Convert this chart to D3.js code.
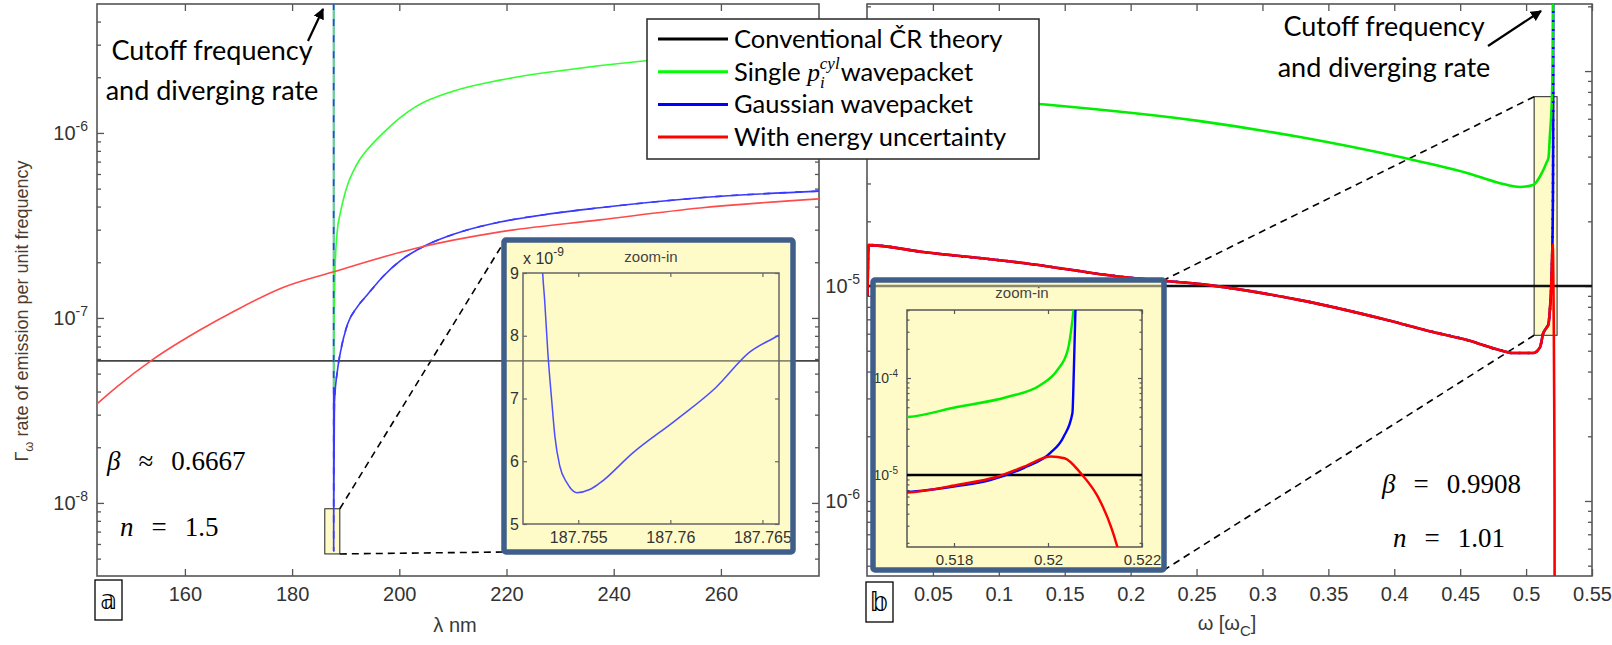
<!DOCTYPE html>
<html>
<head>
<meta charset="UTF-8">
<script src="https://d3js.org/d3.v7.min.js"></script>
<style>
  body { margin: 0; background: #fff; }
  svg { display: block; }
  .tk text { font-family: "Liberation Sans", Arial, sans-serif; fill: #333; }
  .note { font-family: Lato, "Open Sans", sans-serif; font-size: 27px; fill: #000; }
  .leg { font-family: Lato, "Open Sans", sans-serif; font-size: 25.5px; fill: #000; }
  .math { font-family: "Liberation Serif", "DejaVu Serif", serif; font-size: 27px; fill: #000; }
</style>
</head>
<body>
<svg id="chart" width="1612" height="645"></svg>
<script>
// ---------- data ----------
// panel (a): rate vs wavelength (nm)
const lamRange = [143.6, 278.3];
const rateRangeA = [Math.pow(10, -8.395), Math.pow(10, -5.303)];
const lamTicks = [160, 180, 200, 220, 240, 260];
const convA = 5.86e-8;
const redLamA = [143.6, 147.3, 153.9, 162.8, 169.0, 178.3, 187.6, 203.3, 218.8, 237.4, 256.1, 278.3];
const redValA = [3.43e-8, 4.24e-8, 5.93e-8, 8.6e-8, 1.08e-7, 1.46e-7, 1.77e-7, 2.39e-7, 2.92e-7, 3.39e-7, 3.93e-7, 4.40e-7];
const greenLamA = [187.7500, 187.76, 187.8, 187.9, 188.0, 188.4, 189.0, 189.5, 190.5, 191.4, 192.5, 194.0, 197.0, 200.0, 203.3, 210.0, 218.8, 230.0, 245.5, 262.0, 278.3];
const greenValA = [1e-4, 4.1e-8, 8e-8, 1.3e-7, 1.8e-7, 2.9e-7, 3.7e-7, 4.3e-7, 5.4e-7, 6.2e-7, 7.1e-7, 8.1e-7, 1.0e-6, 1.2e-6, 1.4e-6, 1.68e-6, 1.93e-6, 2.17e-6, 2.45e-6, 2.65e-6, 2.8e-6];
const blueLamA = [187.7500, 187.7530, 187.75319, 187.75335, 187.75357, 187.75373, 187.75400, 187.75438, 187.75492, 187.75562, 187.75616, 187.75795, 187.76032, 187.76249, 187.76427, 187.76584, 187.9, 188.5, 189.0, 190.3, 192.0, 194.0, 197.0, 200.1, 203.3, 206.3, 212.0, 218.8, 228.0, 237.4, 256.1, 278.3];
const blueValA = [1e-4, 9.5e-9, 8.5e-9, 7.73e-9, 6.93e-9, 6.4e-9, 5.92e-9, 5.66e-9, 5.5e-9, 5.55e-9, 5.65e-9, 6.13e-9, 6.66e-9, 7.18e-9, 7.73e-9, 8.0e-9, 3.5e-8, 5.3e-8, 6.5e-8, 9.2e-8, 1.13e-7, 1.33e-7, 1.68e-7, 2.03e-7, 2.33e-7, 2.57e-7, 2.95e-7, 3.3e-7, 3.65e-7, 3.94e-7, 4.46e-7, 4.85e-7];
// inset (a)
const insetLamRange = [187.7520, 187.7659];
const insetRateRangeA = [5, 9];           // x 10^-9
const insetLamTicks = [187.755, 187.76, 187.765];
const insetRateTicksA = [5, 6, 7, 8, 9];
const insetZoomA = [186.1, 188.9, 5.3e-9, 9.3e-9]; // marked box: lam0, lam1, rate0, rate1

// panel (b): rate vs omega [omega_C]
const omRange = [0, 0.55];
const rateRangeB = [Math.pow(10, -6.349), Math.pow(10, -3.688)];
const omTicks = [0.05, 0.1, 0.15, 0.2, 0.25, 0.3, 0.35, 0.4, 0.45, 0.5, 0.55];
const convB = 1.0e-5;
const redOmB = [0.0004, 0.0012, 0.0425, 0.1184, 0.1942, 0.2595, 0.3285, 0.3945, 0.4294, 0.4552, 0.4803, 0.4901, 0.5053, 0.5106, 0.5129, 0.5155, 0.517, 0.51806, 0.51892, 0.51949, 0.52006, 0.52035, 0.5207, 0.52106, 0.52134, 0.52145, 0.5216, 0.5218];
const redValB = [9.0e-6, 1.55e-5, 1.44e-5, 1.28e-5, 1.10e-5, 1.01e-5, 8.6e-6, 6.95e-6, 6.11e-6, 5.61e-6, 5.03e-6, 4.88e-6, 4.88e-6, 5.2e-6, 6.0e-6, 6.4e-6, 6.6e-6, 7.9e-6, 9.6e-6, 1.22e-5, 1.55e-5, 1.49e-5, 1.04e-5, 5.98e-6, 2.93e-6, 2.0e-6, 1e-6, 1e-8];
const blueOmB = [0.0004, 0.0012, 0.0425, 0.1184, 0.1942, 0.2595, 0.3285, 0.3945, 0.4294, 0.4552, 0.4803, 0.4901, 0.5053, 0.5106, 0.5129, 0.5155, 0.51699, 0.51806, 0.51877, 0.51948, 0.52005, 0.52033, 0.52052, 0.52055, 0.5206];
const blueValB = [9.0e-6, 1.55e-5, 1.44e-5, 1.28e-5, 1.10e-5, 1.01e-5, 8.6e-6, 6.95e-6, 6.11e-6, 5.61e-6, 5.03e-6, 4.88e-6, 4.88e-6, 5.2e-6, 6.0e-6, 6.4e-6, 6.68e-6, 7.7e-6, 8.87e-6, 1.18e-5, 1.69e-5, 2.47e-5, 4.36e-5, 1.2e-4, 1e-3];
const greenOmB = [0.0004, 0.05, 0.1305, 0.2527, 0.3285, 0.4044, 0.4552, 0.4803, 0.4954, 0.5053, 0.512, 0.5155, 0.51702, 0.51806, 0.51913, 0.51984, 0.5202, 0.52042, 0.52052, 0.5206];
const greenValB = [8.2e-5, 7.7e-5, 7.03e-5, 5.85e-5, 4.93e-5, 3.98e-5, 3.36e-5, 3.01e-5, 2.89e-5, 2.95e-5, 3.36e-5, 3.75e-5, 3.96e-5, 5.02e-5, 6.37e-5, 8.47e-5, 1.21e-4, 1.94e-4, 3.98e-4, 1e-3];
// inset (b)
const insetOmRange = [0.517, 0.522];
const insetRateRangeB = [Math.pow(10, -5.742), Math.pow(10, -3.299)];
const insetOmTicks = [0.518, 0.52, 0.522];
const insetZoomB = [0.5061, 0.5235, 5.9e-6, 7.6e-5];

const legendLabels = ["Conventional ČR theory", "Single wavepacket", "Gaussian wavepacket", "With energy uncertainty"];
const legendColors = ["#000", "#00ff00", "#0000ff", "#ff0000"];

// ---------- helpers ----------
const svg = d3.select("#chart");
const defs = svg.append("defs");
defs.append("marker").attr("id", "arrowhead")
  .attr("viewBox", "0 -5 10 10").attr("refX", 9).attr("refY", 0)
  .attr("orient", "auto").attr("markerWidth", 5).attr("markerHeight", 5)
  .append("path").attr("d", "M0,-5 L10,0 L0,5 Z").attr("fill", "#000");

let clipId = 0;
function clip(x0, y0, w, h) {
  const id = "clip" + (clipId++);
  defs.append("clipPath").attr("id", id).append("rect")
    .attr("x", x0).attr("y", y0).attr("width", w).attr("height", h);
  return "url(#" + id + ")";
}

function logValues(scale) {
  const [lo, hi] = scale.domain();
  const major = [], minor = [];
  for (let e = Math.floor(Math.log10(lo)); e <= Math.ceil(Math.log10(hi)); e++) {
    for (let m = 1; m < 10; m++) {
      const v = m * Math.pow(10, e);
      if (v >= lo && v <= hi) (m === 1 ? major : minor).push(v);
    }
  }
  return { major, minor };
}

function powLabels(g, size, supSize) {
  g.selectAll(".tick text").each(function (d) {
    const t = d3.select(this).text(null).attr("font-size", size);
    t.append("tspan").text("10");
    t.append("tspan").attr("dy", -size * 0.45).attr("font-size", supSize)
      .text(Math.round(Math.log10(d)));
  });
}

// frame + ticks for a box of axes
function drawAxes(p, x, y, o) {
  const g = svg.append("g").attr("class", "tk").attr("color", o.color);
  const strip = s => s.call(a => a.select(".domain").remove());
  g.append("g").attr("transform", `translate(0,${p.bottom})`)
    .call(d3.axisBottom(x).tickValues(o.xTicks).tickSize(-o.tick).tickPadding(o.xPad).tickFormat(o.xFmt))
    .call(strip).selectAll("text").attr("font-size", o.xFont);
  g.append("g").attr("transform", `translate(0,${p.top})`)
    .call(d3.axisTop(x).tickValues(o.xTicks).tickSize(-o.tick).tickFormat("")).call(strip);
  if (o.log) {
    const lv = logValues(y);
    const gl = g.append("g").attr("transform", `translate(${p.left},0)`)
      .call(d3.axisLeft(y).tickValues(lv.major).tickSize(-o.tick).tickPadding(o.yPad).tickFormat("")).call(strip);
    powLabels(gl, o.yFont, o.supFont);
    g.append("g").attr("transform", `translate(${p.left},0)`)
      .call(d3.axisLeft(y).tickValues(lv.minor).tickSize(-o.minorTick).tickFormat("")).call(strip);
    g.append("g").attr("transform", `translate(${p.right},0)`)
      .call(d3.axisRight(y).tickValues(lv.major).tickSize(-o.tick).tickFormat("")).call(strip);
    g.append("g").attr("transform", `translate(${p.right},0)`)
      .call(d3.axisRight(y).tickValues(lv.minor).tickSize(-o.minorTick).tickFormat("")).call(strip);
  } else {
    g.append("g").attr("transform", `translate(${p.left},0)`)
      .call(d3.axisLeft(y).tickValues(o.yTicks).tickSize(-o.tick).tickPadding(o.yPad).tickFormat(d3.format("d")))
      .call(strip).selectAll("text").attr("font-size", o.yFont);
    g.append("g").attr("transform", `translate(${p.right},0)`)
      .call(d3.axisRight(y).tickValues(o.yTicks).tickSize(-o.tick).tickFormat("")).call(strip);
  }
  g.selectAll(".tick line").attr("stroke-width", o.tickWidth);
  g.append("rect").attr("x", p.left).attr("y", p.top)
    .attr("width", p.right - p.left).attr("height", p.bottom - p.top)
    .attr("fill", "none").attr("stroke", o.color).attr("stroke-width", o.frameWidth);
  return g;
}

function curve(x, y, xs, ys, color, width, clipUrl, dash) {
  const line = d3.line().x(d => x(d[0])).y(d => y(d[1])).curve(d3.curveMonotoneX);
  svg.append("path").datum(d3.zip(xs, ys))
    .attr("d", line).attr("fill", "none").attr("stroke", color)
    .attr("stroke-width", width).attr("stroke-dasharray", dash || null)
    .attr("stroke-linejoin", "round").attr("clip-path", clipUrl);
}

function hline(x, y, xr, v, color, width, clipUrl, opacity) {
  svg.append("line").attr("x1", x(xr[0])).attr("x2", x(xr[1]))
    .attr("y1", y(v)).attr("y2", y(v)).attr("stroke", color)
    .attr("stroke-width", width).attr("stroke-opacity", opacity).attr("clip-path", clipUrl);
}

const yellow = "#fffbc8";

// ---------- panel (a) ----------
const pa = { left: 97, right: 819, top: 4, bottom: 576 };
const xA = d3.scaleLinear().domain(lamRange).range([pa.left, pa.right]);
const yA = d3.scaleLog().domain(rateRangeA).range([pa.bottom, pa.top]);
const clipA = clip(pa.left, pa.top, pa.right - pa.left, pa.bottom - pa.top);

// ---------- panel (b) ----------
const pb = { left: 867, right: 1592, top: 4, bottom: 576 };
const xB = d3.scaleLinear().domain(omRange).range([pb.left, pb.right]);
const yB = d3.scaleLog().domain(rateRangeB).range([pb.bottom, pb.top]);
const clipB = clip(pb.left, pb.top, pb.right - pb.left, pb.bottom - pb.top);

const mainOpts = {
  color: "#555", tick: 7, minorTick: 4, tickWidth: 1.3, frameWidth: 1.6,
  xPad: 11, yPad: 9, xFont: 20, yFont: 20, supFont: 14, log: true
};
drawAxes(pa, xA, yA, Object.assign({}, mainOpts, { xTicks: lamTicks, xFmt: d3.format("d") }));
drawAxes(pb, xB, yB, Object.assign({}, mainOpts, { xTicks: omTicks, xFmt: d => String(+d.toFixed(2)), yPad: 7 }));

// zoom markers
function zoomBox(x, y, z) {
  svg.append("rect").attr("x", x(z[0])).attr("y", y(z[3]))
    .attr("width", x(z[1]) - x(z[0])).attr("height", y(z[2]) - y(z[3]))
    .attr("fill", yellow).attr("stroke", "#222").attr("stroke-width", 1);
}
zoomBox(xA, yA, insetZoomA);
zoomBox(xB, yB, insetZoomB);

// inset boxes (outer)
const ia = { x: 504, y: 240, w: 289, h: 312 };
const ib = { x: 873, y: 280, w: 291, h: 290 };

function dashed(x1, y1, x2, y2) {
  svg.append("line").attr("x1", x1).attr("y1", y1).attr("x2", x2).attr("y2", y2)
    .attr("stroke", "#000").attr("stroke-width", 1.6).attr("stroke-dasharray", "7,5");
}
dashed(xA(insetZoomA[1]), yA(insetZoomA[3]), ia.x, ia.y + 2);
dashed(xA(insetZoomA[1]), yA(insetZoomA[2]), ia.x, ia.y + ia.h);
dashed(xB(insetZoomB[0]), yB(insetZoomB[3]), ib.x + ib.w, ib.y);
dashed(xB(insetZoomB[0]), yB(insetZoomB[2]), ib.x + ib.w, ib.y + ib.h);

// main curves
hline(xA, yA, lamRange, convA, "#444", 1.6, clipA, 1);
curve(xA, yA, blueLamA, blueValA, "#3a3aff", 1.6, clipA);
curve(xA, yA, greenLamA, greenValA, "#33ff33", 1.6, clipA);
curve(xA, yA, blueLamA, blueValA, "#3a3aff", 1.6, clipA, "7,9");
curve(xA, yA, redLamA, redValA, "#ff4a4a", 1.6, clipA);

hline(xB, yB, omRange, convB, "#111", 2.6, clipB, 1);
curve(xB, yB, blueOmB, blueValB, "#0000ff", 2.6, clipB);
curve(xB, yB, greenOmB, greenValB, "#00ee00", 2.6, clipB);
curve(xB, yB, blueOmB, blueValB, "#0000ff", 2.6, clipB, "2,7");
curve(xB, yB, redOmB, redValB, "#ff0000", 2.6, clipB);

// ---------- insets ----------
function insetBack(b) {
  svg.append("rect").attr("x", b.x).attr("y", b.y).attr("width", b.w).attr("height", b.h)
    .attr("fill", yellow);
}
function insetBorder(b) {
  svg.append("rect").attr("x", b.x).attr("y", b.y).attr("width", b.w).attr("height", b.h)
    .attr("rx", 2).attr("fill", "none").attr("stroke", "#3f5f8a").attr("stroke-width", 5.5);
}

// inset (a)
insetBack(ia);
hline(xA, yA, lamRange, convA, "#000", 1.6, clip(ia.x, ia.y, ia.w, ia.h), 0.45);
const pia = { left: 523, right: 779, top: 273, bottom: 524 };
const xIA = d3.scaleLinear().domain(insetLamRange).range([pia.left, pia.right]);
const yIA = d3.scaleLinear().domain(insetRateRangeA).range([pia.bottom, pia.top]);
drawAxes(pia, xIA, yIA, {
  color: "#666", tick: 4, tickWidth: 1.2, frameWidth: 1.5, xPad: 8, yPad: 4,
  xFont: 16, yFont: 16, xTicks: insetLamTicks, xFmt: d => String(+d.toFixed(3)),
  yTicks: insetRateTicksA, log: false
});
curve(xIA, yIA, blueLamA, blueValA.map(v => v * 1e9), "#4d4dff", 1.5,
  clip(pia.left, pia.top, pia.right - pia.left, pia.bottom - pia.top));
const tA = svg.append("text").attr("x", 523).attr("y", 264)
  .attr("font-family", "Liberation Sans, Arial, sans-serif").attr("font-size", 16).attr("fill", "#333");
tA.append("tspan").text("x 10");
tA.append("tspan").attr("dy", -8).attr("font-size", 12).text("-9");
svg.append("text").attr("x", 651).attr("y", 262).attr("text-anchor", "middle")
  .attr("font-family", "Liberation Sans, Arial, sans-serif").attr("font-size", 15).attr("fill", "#444")
  .text("zoom-in");
insetBorder(ia);

// inset (b)
insetBack(ib);
hline(xB, yB, omRange, convB, "#000", 2.6, clip(ib.x, ib.y, ib.w, ib.h), 0.45);
const pib = { left: 907, right: 1142, top: 310, bottom: 547 };
const xIB = d3.scaleLinear().domain(insetOmRange).range([pib.left, pib.right]);
const yIB = d3.scaleLog().domain(insetRateRangeB).range([pib.bottom, pib.top]);
drawAxes(pib, xIB, yIB, {
  color: "#555", tick: 4, minorTick: 2.5, tickWidth: 1.2, frameWidth: 1.5, xPad: 7, yPad: 9,
  xFont: 15, yFont: 14, supFont: 10, xTicks: insetOmTicks, xFmt: d => String(+d.toFixed(3)), log: true
});
const clipIB = clip(pib.left, pib.top, pib.right - pib.left, pib.bottom - pib.top);
hline(xIB, yIB, insetOmRange, convB, "#000", 2.4, clipIB, 1);
curve(xIB, yIB, greenOmB, greenValB, "#00ee00", 2.4, clipIB);
curve(xIB, yIB, blueOmB, blueValB, "#0000ff", 2.4, clipIB);
curve(xIB, yIB, redOmB, redValB, "#ff0000", 2.4, clipIB);
svg.append("text").attr("x", 1022).attr("y", 298).attr("text-anchor", "middle")
  .attr("font-family", "Liberation Sans, Arial, sans-serif").attr("font-size", 15).attr("fill", "#444")
  .text("zoom-in");
insetBorder(ib);

// ---------- axis titles ----------
const ylab = svg.append("text").attr("transform", "translate(28,311) rotate(-90)")
  .attr("text-anchor", "middle").attr("font-family", "Liberation Sans, Arial, sans-serif")
  .attr("font-size", 18).attr("fill", "#4a3c30");
ylab.append("tspan").text("Γ");
ylab.append("tspan").attr("dy", 5).attr("font-size", 13).text("ω");
ylab.append("tspan").attr("dy", -5).text(" rate of emission per unit frequency");

svg.append("text").attr("x", 455).attr("y", 632).attr("text-anchor", "middle")
  .attr("font-family", "Liberation Sans, Arial, sans-serif").attr("font-size", 20).attr("fill", "#3a3a3a")
  .text("λ nm");
const xlb = svg.append("text").attr("x", 1227).attr("y", 630).attr("text-anchor", "middle")
  .attr("font-family", "Liberation Sans, Arial, sans-serif").attr("font-size", 20).attr("fill", "#3a3a3a");
xlb.append("tspan").text("ω [ω");
xlb.append("tspan").attr("dy", 6).attr("font-size", 15).text("C");
xlb.append("tspan").attr("dy", -6).text("]");

// ---------- panel labels ----------
function panelLabel(x0, y0, ch) {
  svg.append("rect").attr("x", x0).attr("y", y0).attr("width", 27).attr("height", 40)
    .attr("fill", "#fff").attr("stroke", "#000").attr("stroke-width", 1.3);
  svg.append("text").attr("x", x0 + 13.5).attr("y", y0 + 29).attr("text-anchor", "middle")
    .attr("font-family", "DejaVu Sans, serif").attr("font-size", 26).attr("fill", "#000").text(ch);
}
panelLabel(95, 580, "𝕒");
panelLabel(866, 582, "𝕓");

// ---------- annotations ----------
function note(cx, y1, y2) {
  svg.append("text").attr("class", "note").attr("x", cx).attr("y", y1).attr("text-anchor", "middle").text("Cutoff frequency");
  svg.append("text").attr("class", "note").attr("x", cx).attr("y", y2).attr("text-anchor", "middle").text("and diverging rate");
}
note(212, 60, 100);
note(1384, 36, 77);
function arrow(x1, y1, x2, y2) {
  svg.append("line").attr("x1", x1).attr("y1", y1).attr("x2", x2).attr("y2", y2)
    .attr("stroke", "#000").attr("stroke-width", 2.2).attr("marker-end", "url(#arrowhead)");
}
arrow(308, 41, 323, 9);
arrow(1488, 46, 1541, 11);

function mathLine(x0, y0, sym, rel, val) {
  const t = svg.append("text").attr("class", "math").attr("x", x0).attr("y", y0);
  t.append("tspan").attr("font-style", "italic").text(sym);
  t.append("tspan").attr("dx", 18).text(rel);
  t.append("tspan").attr("dx", 18).text(val);
}
mathLine(107, 470, "β", "≈", "0.6667");
mathLine(120, 536, "n", "=", "1.5");
mathLine(1382, 493, "β", "=", "0.9908");
mathLine(1393, 547, "n", "=", "1.01");

// ---------- legend ----------
const lg = svg.append("g");
lg.append("rect").attr("x", 647).attr("y", 19).attr("width", 392).attr("height", 140)
  .attr("fill", "#fff").attr("stroke", "#333").attr("stroke-width", 1.6);
legendLabels.forEach((lab, i) => {
  const yy = 39 + i * 32.7;
  lg.append("line").attr("x1", 658).attr("x2", 728).attr("y1", yy).attr("y2", yy)
    .attr("stroke", legendColors[i]).attr("stroke-width", 3);
  const t = lg.append("text").attr("class", "leg").attr("x", 734).attr("y", yy + 9);
  if (i === 1) {
    t.append("tspan").text("Single ");
    t.append("tspan").attr("font-family", "Liberation Serif, serif").attr("font-style", "italic").text("p");
    t.append("tspan").attr("font-family", "Liberation Serif, serif").attr("font-style", "italic")
      .attr("font-size", 17).attr("dy", 7).text("i");
    t.append("tspan").attr("font-family", "Liberation Serif, serif").attr("font-style", "italic")
      .attr("font-size", 17).attr("dx", -5).attr("dy", -19).text("cyl");
    t.append("tspan").attr("dy", 12).attr("dx", 1).text("wavepacket");
  } else {
    t.text(lab);
  }
});
</script>
</body>
</html>
